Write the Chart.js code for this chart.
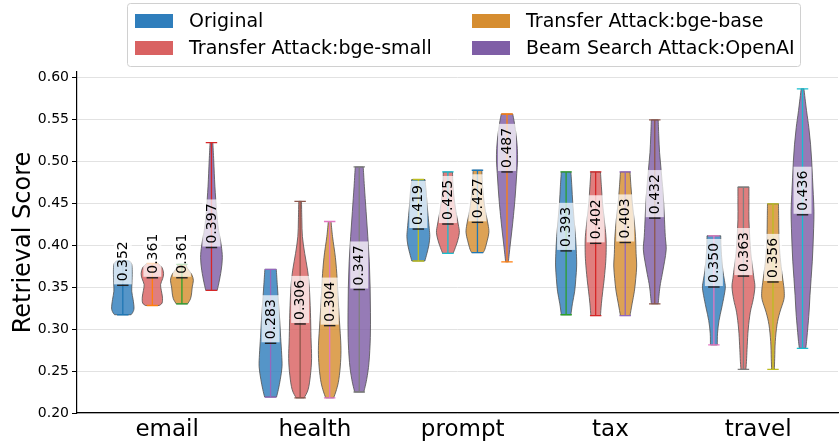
<!DOCTYPE html>
<html>
<head>
<meta charset="utf-8">
<script src="https://cdn.jsdelivr.net/npm/chart.js@4.4.7/dist/chart.umd.min.js"></script>
<style>
  html, body { margin: 0; background: #fff; }
  .chart-container { width: 840px; height: 442px; position: relative; }
</style>
</head>
<body>
<div class="chart-container">
  <canvas id="chart"></canvas>
</div>

<script>
  // ---- data ----
  const categories = ['email', 'health', 'prompt', 'tax', 'travel']
  const seriesNames = ['Original', 'Transfer Attack:bge-small', 'Transfer Attack:bge-base', 'Beam Search Attack:OpenAI']

  // medians printed on each violin
  const medOriginal = [0.352, 0.283, 0.419, 0.393, 0.350]
  const medBgeSmall = [0.361, 0.306, 0.425, 0.402, 0.363]
  const medBgeBase = [0.361, 0.304, 0.427, 0.403, 0.356]
  const medOpenAI = [0.397, 0.347, 0.487, 0.432, 0.436]

  // violin outlines: [score, relative density], from max down to min
  const densOriginal = [
    [[0.381, 0.6], [0.377, 0.78], [0.368, 0.82], [0.355, 0.8], [0.345, 0.78], [0.335, 0.9], [0.325, 0.98], [0.320, 0.88], [0.317, 0.72]],
    [[0.371, 0.5], [0.35, 0.6], [0.33, 0.7], [0.31, 0.8], [0.29, 0.88], [0.27, 0.97], [0.255, 1.0], [0.24, 0.85], [0.228, 0.68], [0.219, 0.52]],
    [[0.478, 0.58], [0.465, 0.68], [0.45, 0.75], [0.435, 0.85], [0.42, 0.95], [0.41, 1.0], [0.40, 0.92], [0.39, 0.75], [0.381, 0.57]],
    [[0.487, 0.42], [0.47, 0.5], [0.45, 0.58], [0.43, 0.7], [0.41, 0.82], [0.39, 0.9], [0.375, 0.92], [0.36, 0.85], [0.345, 0.75], [0.33, 0.55], [0.317, 0.42]],
    [[0.411, 0.6], [0.40, 0.62], [0.385, 0.68], [0.37, 0.78], [0.358, 0.92], [0.35, 1.0], [0.34, 0.9], [0.325, 0.68], [0.31, 0.45], [0.295, 0.32], [0.281, 0.3]]
  ]
  const densBgeSmall = [
    [[0.378, 0.5], [0.373, 0.85], [0.366, 0.98], [0.360, 0.9], [0.353, 0.72], [0.346, 0.78], [0.338, 0.88], [0.331, 0.85], [0.328, 0.6]],
    [[0.452, 0.12], [0.43, 0.15], [0.41, 0.2], [0.39, 0.4], [0.37, 0.65], [0.35, 0.8], [0.32, 0.9], [0.29, 0.95], [0.265, 1.0], [0.245, 0.9], [0.228, 0.7], [0.218, 0.35]],
    [[0.487, 0.4], [0.47, 0.45], [0.455, 0.55], [0.44, 0.7], [0.425, 0.9], [0.415, 1.0], [0.405, 0.85], [0.395, 0.6], [0.390, 0.45]],
    [[0.487, 0.42], [0.47, 0.5], [0.45, 0.6], [0.43, 0.75], [0.41, 0.9], [0.395, 0.92], [0.38, 0.88], [0.36, 0.75], [0.345, 0.62], [0.33, 0.5], [0.316, 0.42]],
    [[0.469, 0.48], [0.45, 0.48], [0.43, 0.48], [0.41, 0.55], [0.39, 0.65], [0.375, 0.78], [0.36, 0.92], [0.35, 1.0], [0.335, 0.85], [0.32, 0.6], [0.30, 0.42], [0.28, 0.33], [0.265, 0.28], [0.252, 0.22]]
  ]
  const densBgeBase = [
    [[0.377, 0.35], [0.372, 0.5], [0.365, 0.85], [0.358, 1.0], [0.350, 0.9], [0.343, 0.85], [0.336, 0.75], [0.330, 0.5]],
    [[0.428, 0.12], [0.41, 0.25], [0.385, 0.5], [0.36, 0.65], [0.34, 0.72], [0.31, 0.85], [0.28, 0.98], [0.26, 0.95], [0.24, 0.8], [0.228, 0.6], [0.218, 0.35]],
    [[0.489, 0.38], [0.47, 0.45], [0.455, 0.55], [0.44, 0.7], [0.425, 0.92], [0.415, 1.0], [0.405, 0.85], [0.395, 0.65], [0.391, 0.5]],
    [[0.487, 0.42], [0.47, 0.5], [0.45, 0.62], [0.43, 0.78], [0.41, 0.9], [0.39, 0.95], [0.375, 1.0], [0.36, 0.92], [0.345, 0.8], [0.33, 0.6], [0.316, 0.42]],
    [[0.449, 0.48], [0.43, 0.5], [0.41, 0.52], [0.39, 0.6], [0.37, 0.75], [0.355, 0.9], [0.345, 0.98], [0.335, 0.95], [0.32, 0.6], [0.305, 0.35], [0.285, 0.2], [0.265, 0.15], [0.252, 0.12]]
  ]
  const densOpenAI = [
    [[0.522, 0.12], [0.50, 0.2], [0.47, 0.3], [0.44, 0.45], [0.42, 0.6], [0.40, 0.85], [0.385, 0.95], [0.37, 0.85], [0.355, 0.65], [0.346, 0.5]],
    [[0.493, 0.35], [0.47, 0.45], [0.44, 0.6], [0.41, 0.75], [0.38, 0.88], [0.35, 0.95], [0.32, 0.98], [0.29, 0.97], [0.26, 0.85], [0.24, 0.65], [0.225, 0.4]],
    [[0.556, 0.5], [0.545, 0.65], [0.53, 0.8], [0.515, 0.9], [0.50, 0.92], [0.485, 0.85], [0.47, 0.78], [0.455, 0.7], [0.44, 0.6], [0.42, 0.45], [0.40, 0.28], [0.38, 0.12]],
    [[0.549, 0.3], [0.53, 0.35], [0.51, 0.42], [0.49, 0.55], [0.47, 0.68], [0.45, 0.78], [0.43, 0.85], [0.41, 0.92], [0.395, 1.0], [0.38, 0.85], [0.365, 0.65], [0.35, 0.45], [0.33, 0.3]],
    [[0.586, 0.12], [0.56, 0.35], [0.54, 0.55], [0.52, 0.7], [0.50, 0.8], [0.48, 0.87], [0.46, 0.94], [0.44, 1.0], [0.42, 0.97], [0.40, 0.92], [0.38, 0.85], [0.36, 0.75], [0.34, 0.65], [0.32, 0.57], [0.30, 0.45], [0.285, 0.35], [0.277, 0.28]]
  ]

  const yTicks = [0.20, 0.25, 0.30, 0.35, 0.40, 0.45, 0.50, 0.55, 0.60]

  // ---- styling ----
  const seriesColors = ['#2f7ebc', '#d96262', '#d68d30', '#7f5ea6']
  const barColors = ['#1f77b4', '#ff7f0e', '#2ca02c', '#d62728', '#9467bd', '#8c564b', '#e377c2', '#7f7f7f', '#bcbd22', '#17becf']
  const offsets = [-0.3, -0.1, 0.1, 0.3]
  const violinWidth = 0.155
  const FONT = 'DejaVu Sans'

  const medians = [medOriginal, medBgeSmall, medBgeBase, medOpenAI]
  const densities = [densOriginal, densBgeSmall, densBgeBase, densOpenAI]

  function alpha(hex, a) {
    const r = parseInt(hex.slice(1, 3), 16), g = parseInt(hex.slice(3, 5), 16), b = parseInt(hex.slice(5, 7), 16)
    return `rgba(${r}, ${g}, ${b}, ${a})`
  }

  // smooth path through points (Catmull-Rom -> bezier)
  function smoothPath(ctx, pts, moveFirst) {
    if (moveFirst) ctx.moveTo(pts[0][0], pts[0][1])
    else ctx.lineTo(pts[0][0], pts[0][1])
    for (let i = 0; i < pts.length - 1; i++) {
      const p0 = pts[Math.max(i - 1, 0)], p1 = pts[i], p2 = pts[i + 1], p3 = pts[Math.min(i + 2, pts.length - 1)]
      const c1x = p1[0] + (p2[0] - p0[0]) / 6, c1y = p1[1] + (p2[1] - p0[1]) / 6
      const c2x = p2[0] - (p3[0] - p1[0]) / 6, c2y = p2[1] - (p3[1] - p1[1]) / 6
      ctx.bezierCurveTo(c1x, c1y, c2x, c2y, p2[0], p2[1])
    }
  }

  const violinPlugin = {
    id: 'violins',
    afterDatasetsDraw(chart) {
      const ctx = chart.ctx
      const xs = chart.scales.x, ys = chart.scales.y
      const unit = xs.getPixelForValue(1) - xs.getPixelForValue(0)
      ctx.save()
      for (let s = 0; s < seriesNames.length; s++) {
        for (let c = 0; c < categories.length; c++) {
          const prof = densities[s][c]
          const cx = xs.getPixelForValue(c + offsets[s])
          const half = violinWidth * unit / 2
          const right = prof.map(([v, d]) => [cx + d * half, ys.getPixelForValue(v)])
          const left = prof.map(([v, d]) => [cx - d * half, ys.getPixelForValue(v)]).reverse()

          ctx.beginPath()
          smoothPath(ctx, right, true)
          smoothPath(ctx, left, false)
          ctx.closePath()
          ctx.fillStyle = alpha(seriesColors[s], 0.82)
          ctx.fill()
          ctx.lineWidth = 0.8
          ctx.strokeStyle = '#505050'
          ctx.stroke()

          // extrema bar and caps
          const yTop = ys.getPixelForValue(prof[0][0])
          const yBot = ys.getPixelForValue(prof[prof.length - 1][0])
          const cap = violinWidth * unit / 4
          ctx.strokeStyle = barColors[(c * 4 + s) % 10]
          ctx.lineWidth = 1.3
          ctx.beginPath()
          ctx.moveTo(cx, yTop); ctx.lineTo(cx, yBot)
          ctx.moveTo(cx - cap, yTop); ctx.lineTo(cx + cap, yTop)
          ctx.moveTo(cx - cap, yBot); ctx.lineTo(cx + cap, yBot)
          ctx.stroke()
        }
      }

      // median lines and labels
      for (let s = 0; s < seriesNames.length; s++) {
        for (let c = 0; c < categories.length; c++) {
          const cx = xs.getPixelForValue(c + offsets[s])
          const ym = ys.getPixelForValue(medians[s][c])
          const cap = violinWidth * unit / 4
          const label = medians[s][c].toFixed(3)
          ctx.font = '14px ' + FONT
          const tw = ctx.measureText(label).width
          ctx.save()
          ctx.translate(cx, ym)
          ctx.rotate(-Math.PI / 2)
          ctx.fillStyle = 'rgba(255, 255, 255, 0.72)'
          ctx.fillRect(1, -9, tw + 7, 18)
          ctx.fillStyle = '#000'
          ctx.textAlign = 'left'
          ctx.textBaseline = 'middle'
          ctx.fillText(label, 4, 0.5)
          ctx.restore()

          ctx.strokeStyle = '#222'
          ctx.lineWidth = 1.4
          ctx.beginPath()
          ctx.moveTo(cx - cap, ym); ctx.lineTo(cx + cap, ym)
          ctx.stroke()
        }
      }
      ctx.restore()
    },
    afterDraw(chart) {
      // legend box, two columns
      const ctx = chart.ctx
      ctx.save()
      ctx.fillStyle = 'rgba(255, 255, 255, 0.85)'
      ctx.strokeStyle = '#d0d0d0'
      ctx.lineWidth = 1
      ctx.beginPath()
      ctx.roundRect(127.5, 3.5, 673, 63, 3)
      ctx.fill()
      ctx.stroke()
      ctx.font = '19px ' + FONT
      ctx.textBaseline = 'middle'
      ctx.textAlign = 'left'
      const colX = [135, 472]
      const rowY = [21, 48]
      const order = [[0, 0], [0, 1], [1, 0], [1, 1]]
      for (let i = 0; i < seriesNames.length; i++) {
        const [col, row] = order[i]
        ctx.fillStyle = seriesColors[i]
        ctx.fillRect(colX[col], rowY[row] - 7, 38, 14)
        ctx.fillStyle = '#000'
        ctx.fillText(seriesNames[i], colX[col] + 54, rowY[row] + 1)
      }
      ctx.restore()
    }
  }

  const datasets = seriesNames.map((name, s) => ({
    label: name,
    data: medians[s].map((m, c) => ({ x: c + offsets[s], y: m })),
    backgroundColor: seriesColors[s],
    pointRadius: 0
  }))

  const config = {
    type: 'scatter',
    data: { datasets: datasets },
    options: {
      responsive: true,
      maintainAspectRatio: false,
      animation: false,
      layout: { padding: { top: 72, right: 2, left: 0, bottom: 0 } },
      plugins: {
        legend: { display: false },
        tooltip: { enabled: false }
      },
      scales: {
        x: {
          type: 'linear',
          min: -0.61,
          max: 4.54,
          afterBuildTicks: (scale) => { scale.ticks = categories.map((c, i) => ({ value: i })) },
          afterFit: (scale) => { scale.height = 29 },
          ticks: {
            callback: (v) => categories[v],
            font: { family: FONT, size: 23 },
            color: '#000',
            padding: 3,
            maxRotation: 0
          },
          grid: { display: false, drawTicks: false },
          border: { display: true, color: '#000', width: 1.2 }
        },
        y: {
          min: 0.2,
          max: 0.606,
          afterBuildTicks: (scale) => { scale.ticks = yTicks.map((v) => ({ value: v })) },
          afterFit: (scale) => { scale.width = 77 },
          ticks: {
            callback: (v) => v.toFixed(2),
            font: { family: FONT, size: 14 },
            color: '#000',
            padding: 3
          },
          grid: { color: '#e2e2e2', tickColor: '#000', tickLength: 5, lineWidth: 1 },
          border: { display: true, color: '#000', width: 1.2 },
          title: {
            display: true,
            text: 'Retrieval Score',
            font: { family: FONT, size: 24 },
            color: '#000',
            padding: { top: 9, bottom: 0 }
          }
        }
      }
    },
    plugins: [violinPlugin]
  }

  const myChart = new Chart(document.getElementById('chart'), config)
</script>
</body>
</html>
